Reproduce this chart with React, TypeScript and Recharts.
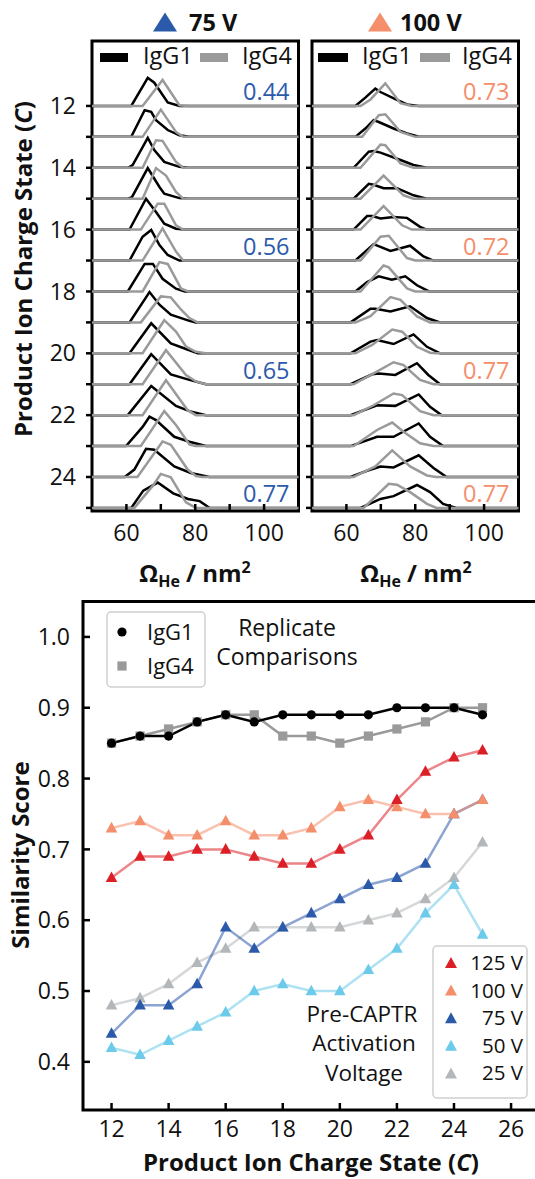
import { LineChart, Line, XAxis, YAxis, ReferenceArea, ReferenceDot } from 'recharts';

type Pt = [number, number];

// product ion charge states (C)
const chargeStates = [12, 13, 14, 15, 16, 17, 18, 19, 20, 21, 22, 23, 24, 25];
const chargeTicks = [12, 14, 16, 18, 20, 22, 24, 26];
const ccsTicks = [60, 70, 80, 90, 100];
const scoreTicks = [0.4, 0.5, 0.6, 0.7, 0.8, 0.9, 1.0];
// rows that carry a similarity score in the CCS panels
const labelledCharges = [12, 17, 21, 25];

// CCS distributions: [Ω He / nm², peak height in row units], one list per charge state
const igg1At75: Pt[][] = [
  [[61.4, 0], [66.2, 0.91], [68.1, 0.75], [72, 0.11], [75.4, 0]],
  [[61.4, 0], [65.3, 0.86], [67.2, 0.81], [68.6, 0.54], [72, 0.22], [75.4, 0.05], [78.3, 0]],
  [[60.5, 0], [61.8, 0.09], [66.2, 0.97], [68.1, 0.57], [71, 0.19], [75.4, 0.03], [78, 0]],
  [[60.5, 0], [61.6, 0.05], [66.2, 0.99], [69.6, 0.38], [71, 0.16], [75.4, 0.02], [78, 0]],
  [[60.9, 0], [65.7, 1.0], [68.6, 0.57], [71, 0.19], [74.4, 0.03], [77, 0]],
  [[60.9, 0], [64.7, 0.77], [67.2, 0.99], [69.6, 0.5], [72, 0.18], [75.4, 0]],
  [[60.4, 0], [65.3, 0.89], [67.7, 0.89], [70.5, 0.41], [74.4, 0.09], [77, 0]],
  [[60.9, 0], [66.7, 0.98], [69.6, 0.57], [72.9, 0.25], [78.3, 0.05], [80.2, 0]],
  [[60.9, 0], [67.2, 0.97], [72.9, 0.32], [77.3, 0.14], [80.7, 0]],
  [[60.9, 0], [67.2, 0.97], [72.9, 0.32], [78.3, 0.14], [83.1, 0]],
  [[60.4, 0], [67.2, 0.94], [74.4, 0.3], [78.3, 0.13], [83.1, 0]],
  [[59.9, 0], [64.7, 0.62], [66.7, 0.95], [68.6, 0.84], [73.9, 0.3], [78.3, 0.14], [83.1, 0]],
  [[59.5, 0], [62.3, 0.24], [65.7, 0.91], [68.1, 0.88], [73.9, 0.34], [78.7, 0.13], [84.1, 0]],
  [[61.4, 0], [64.9, 0.56], [69.1, 0.82], [73.6, 0.47], [77.9, 0.29], [81.3, 0.22], [84.2, 0]],
];

const igg4At75: Pt[][] = [
  [[64.7, 0], [70.5, 0.84], [75.4, 0.02], [78, 0]],
  [[64.7, 0], [70, 0.88], [74.4, 0.16], [76.5, 0]],
  [[64.7, 0], [68.6, 0.89], [70.5, 0.87], [74.4, 0.19], [76.5, 0]],
  [[64.7, 0], [68.6, 0.99], [71.5, 0.75], [74.4, 0.22], [76.5, 0]],
  [[64.2, 0], [69.1, 0.84], [71, 0.84], [74.4, 0.14], [76.5, 0]],
  [[64.7, 0], [70.5, 1.04], [74.4, 0.29], [76.5, 0]],
  [[64.7, 0], [69.6, 0.95], [72, 0.89], [75.9, 0.09], [78, 0]],
  [[64.2, 0], [70, 0.84], [72.9, 0.81], [75.9, 0.41], [78.3, 0.14], [80.7, 0]],
  [[64.7, 0], [71, 1.07], [74.4, 0.7], [77.3, 0.22], [80.2, 0.05], [83, 0]],
  [[64.7, 0], [71.5, 1.1], [77.3, 0.3], [80.2, 0.09], [83, 0]],
  [[64.7, 0], [71.5, 1.13], [77.8, 0.16], [80.2, 0]],
  [[64.2, 0], [71, 1.13], [74.4, 0.68], [78.3, 0.05], [80, 0]],
  [[63.2, 0], [70.5, 1.15], [72.9, 1.04], [77.8, 0.24], [80.2, 0.03], [82, 0]],
  [[62.3, 0], [67.7, 0.72], [70, 1.1], [72.9, 0.99], [77.3, 0.18], [80.2, 0]],
];

const igg1At100: Pt[][] = [
  [[62.6, 0], [65.5, 0.27], [68.4, 0.56], [69.9, 0.45], [74.2, 0.22], [77.6, 0.05], [81, 0]],
  [[62.6, 0], [65.5, 0.27], [67.9, 0.54], [69.4, 0.48], [73.7, 0.27], [77.6, 0.11], [81.4, 0]],
  [[62.1, 0], [66.5, 0.52], [67.9, 0.54], [69.9, 0.49], [75.7, 0.25], [79.5, 0.09], [83.3, 0]],
  [[62.1, 0], [66.5, 0.48], [67.9, 0.45], [70.8, 0.34], [74.7, 0.34], [79.5, 0.11], [83.3, 0]],
  [[62.1, 0], [66, 0.44], [67.5, 0.44], [69.9, 0.36], [73.7, 0.41], [77.6, 0.38], [81.4, 0.09], [83.3, 0]],
  [[62.6, 0], [67.9, 0.53], [72.8, 0.31], [78.5, 0.48], [82.4, 0.13], [85.3, 0]],
  [[62.6, 0], [66, 0.3], [69.4, 0.49], [73.2, 0.38], [77.1, 0.49], [80.5, 0.2], [84, 0]],
  [[61.2, 0], [67, 0.44], [68.4, 0.44], [72.8, 0.35], [78.5, 0.52], [83.4, 0.14], [87.2, 0]],
  [[61.2, 0], [67, 0.38], [68.9, 0.43], [73.7, 0.3], [79.5, 0.61], [83.4, 0.21], [87.2, 0]],
  [[61.2, 0], [67.5, 0.32], [69.4, 0.35], [74.2, 0.3], [80.5, 0.68], [83.8, 0.3], [87.2, 0]],
  [[61.2, 0], [68.9, 0.32], [74.2, 0.3], [81, 0.67], [84.3, 0.27], [87.7, 0]],
  [[61.2, 0], [68.9, 0.3], [73.7, 0.3], [81, 0.73], [84.3, 0.3], [88.1, 0]],
  [[61.2, 0], [66, 0.2], [69.9, 0.34], [73.7, 0.31], [81, 0.7], [85.3, 0.29], [89.1, 0]],
  [[64.1, 0], [69.9, 0.29], [73.7, 0.38], [80.5, 0.74], [84.3, 0.51], [88.1, 0.13], [91.9, 0]],
];

const igg4At100: Pt[][] = [
  [[64.1, 0], [67, 0.21], [71.3, 0.73], [75.7, 0.09], [79, 0]],
  [[64.6, 0], [69.4, 0.7], [71.3, 0.73], [75.7, 0.16], [80, 0]],
  [[64.1, 0], [69.9, 0.75], [71.3, 0.73], [75.7, 0.14], [79.5, 0]],
  [[64.1, 0], [70.8, 0.75], [76.6, 0.11], [79.5, 0]],
  [[64.1, 0], [70.8, 0.76], [76.2, 0.14], [79, 0]],
  [[64.1, 0], [69.9, 0.77], [72.3, 0.8], [77.6, 0.08], [80, 0]],
  [[64.1, 0], [70.8, 0.84], [72.3, 0.78], [77.6, 0.1], [80, 0]],
  [[62.6, 0], [67, 0.2], [72.8, 0.82], [75.7, 0.73], [80.5, 0.19], [84.3, 0]],
  [[62.6, 0], [67.5, 0.27], [73.3, 0.77], [76.2, 0.7], [80.5, 0.21], [84.3, 0.02], [86, 0]],
  [[62.1, 0], [67.9, 0.35], [73.7, 0.71], [76.6, 0.62], [81.4, 0.14], [85.3, 0]],
  [[62.1, 0], [67.9, 0.32], [73.7, 0.7], [76.2, 0.65], [81.4, 0.13], [85.3, 0]],
  [[62.1, 0], [68.9, 0.52], [73.3, 0.76], [76.6, 0.46], [81.4, 0.09], [85.3, 0]],
  [[62.1, 0], [68.4, 0.34], [73.3, 0.86], [78.5, 0.34], [83.4, 0.05], [86, 0]],
  [[65, 0], [72.3, 0.78], [74.7, 0.75], [78.5, 0.51], [83.4, 0.13], [86.2, 0]],
];

// similarity scores, one per charge state
const replicateIgG1 = [0.85, 0.86, 0.86, 0.88, 0.89, 0.88, 0.89, 0.89, 0.89, 0.89, 0.9, 0.9, 0.9, 0.89];
const replicateIgG4 = [0.85, 0.86, 0.87, 0.88, 0.89, 0.89, 0.86, 0.86, 0.85, 0.86, 0.87, 0.88, 0.9, 0.9];
const score125 = [0.66, 0.69, 0.69, 0.7, 0.7, 0.69, 0.68, 0.68, 0.7, 0.72, 0.77, 0.81, 0.83, 0.84];
const score100 = [0.73, 0.74, 0.72, 0.72, 0.74, 0.72, 0.72, 0.73, 0.76, 0.77, 0.76, 0.75, 0.75, 0.77];
const score75 = [0.44, 0.48, 0.48, 0.51, 0.59, 0.56, 0.59, 0.61, 0.63, 0.65, 0.66, 0.68, 0.75, 0.77];
const score50 = [0.42, 0.41, 0.43, 0.45, 0.47, 0.5, 0.51, 0.5, 0.5, 0.53, 0.56, 0.61, 0.65, 0.58];
const score25 = [0.48, 0.49, 0.51, 0.54, 0.56, 0.59, 0.59, 0.59, 0.59, 0.6, 0.61, 0.63, 0.66, 0.71];

const RED = '#dc1f27';
const SALMON = '#f48e6b';
const BLUE = '#2c5aab';
const SKY = '#6ccaea';
const SILVER = '#b3b7b9';
const GRAY = '#9a9a9a';
const INK = '#111';

const voltageSeries = [
  { key: 'v25', label: '25 V', color: SILVER },
  { key: 'v50', label: '50 V', color: SKY },
  { key: 'v75', label: '75 V', color: BLUE },
  { key: 'v100', label: '100 V', color: SALMON },
  { key: 'v125', label: '125 V', color: RED },
];

const scoreRows = chargeStates.map((c, i) => ({
  c,
  igg1: replicateIgG1[i],
  igg4: replicateIgG4[i],
  v125: score125[i],
  v100: score100[i],
  v75: score75[i],
  v50: score50[i],
  v25: score25[i],
}));

const toRidge = (pts: Pt[], c: number) =>
  [[50, 0] as Pt, ...pts, [110, 0] as Pt].map(([x, h]) => ({ x, y: c - h }));

const tickFont = { fill: INK, fontSize: 23 };
const tickStroke = { stroke: '#000', strokeWidth: 2.5 };
const TITLE_SIZE = 24;

const OmegaTitle = ({ x, y }: { x: number; y: number }) => (
  <text x={x} y={y} textAnchor="middle" fontSize={TITLE_SIZE} fontWeight={700} fill={INK}>
    <tspan>Ω</tspan>
    <tspan fontSize={16} dy={5}>He</tspan>
    <tspan dy={-5}> / nm</tspan>
    <tspan fontSize={16} dy={-9}>2</tspan>
  </text>
);

const VerticalTitle = ({ x, y, children }: { x: number; y: number; children: any }) => (
  <text
    x={x}
    y={y}
    transform={`rotate(-90 ${x} ${y})`}
    textAnchor="middle"
    fontSize={TITLE_SIZE}
    fontWeight={700}
    fill={INK}
  >
    {children}
  </text>
);

type PanelProps = {
  igg1: Pt[][];
  igg4: Pt[][];
  scores: number[];
  color: string;
  axisWidth: number;
  width: number;
  titleX: number;
  showLabels: boolean;
};

function RidgePanel({ igg1, igg4, scores, color, axisWidth, width, titleX, showLabels }: PanelProps) {
  return (
    <LineChart width={width} height={600} margin={{ top: 41, right: 11.5, bottom: 0, left: 0 }}>
      <XAxis
        type="number"
        dataKey="x"
        domain={[50, 110]}
        ticks={ccsTicks}
        interval={0}
        tickFormatter={(v) => (v % 20 === 0 ? String(v) : '')}
        tickSize={-7}
        tickMargin={21}
        axisLine={false}
        tickLine={tickStroke}
        tick={tickFont}
        height={89}
        label={() => <OmegaTitle x={titleX} y={582} />}
      />
      <YAxis
        type="number"
        domain={[9.9, 25.1]}
        reversed
        allowDataOverflow
        ticks={chargeStates}
        interval={0}
        tickFormatter={(v) => (showLabels && v % 2 === 0 ? String(v) : '')}
        width={axisWidth}
        tickSize={6}
        tickMargin={10}
        axisLine={false}
        tickLine={tickStroke}
        tick={tickFont}
        label={
          showLabels
            ? () => (
                <VerticalTitle x={32} y={269}>
                  Product Ion Charge State (<tspan fontStyle="italic">C</tspan>)
                </VerticalTitle>
              )
            : undefined
        }
      />
      {chargeStates.flatMap((c, i) => [
        <Line
          key={`igg1-${c}`}
          data={toRidge(igg1[i], c)}
          dataKey="y"
          type="linear"
          stroke="#000"
          strokeWidth={2.5}
          dot={false}
          isAnimationActive={false}
        />,
        <Line
          key={`igg4-${c}`}
          data={toRidge(igg4[i], c)}
          dataKey="y"
          type="linear"
          stroke={GRAY}
          strokeWidth={2.5}
          dot={false}
          isAnimationActive={false}
        />,
      ])}
      {labelledCharges.map((c) => (
        <ReferenceDot
          key={`score-${c}`}
          x={110}
          y={c - 0.45}
          r={0}
          fill="none"
          stroke="none"
          label={{ value: scores[c - 12].toFixed(2), position: 'left', offset: 9, fill: color, fontSize: 23.5 }}
        />
      ))}
      <ReferenceArea x1={50} x2={110} y1={9.9} y2={25.1} fill="none" stroke="#000" strokeWidth={3} />
    </LineChart>
  );
}

const triangleDot = (fill: string) => (p: any) => (
  <path
    key={`tri-${p.index}`}
    d={`M${p.cx},${p.cy - 6.3}L${p.cx + 5.8},${p.cy + 4.3}L${p.cx - 5.8},${p.cy + 4.3}Z`}
    fill={fill}
  />
);

const squareDot = (p: any) => (
  <rect key={`sq-${p.index}`} x={p.cx - 4.6} y={p.cy - 4.6} width={9.2} height={9.2} fill={GRAY} />
);

function ScoreChart() {
  return (
    <LineChart width={545} height={589} data={scoreRows} margin={{ top: 11.5, right: 5.4, bottom: 0, left: 0 }}>
      <XAxis
        type="number"
        dataKey="c"
        domain={[11, 27]}
        ticks={chargeTicks}
        interval={0}
        tickSize={-7}
        tickMargin={18}
        axisLine={false}
        tickLine={tickStroke}
        tick={tickFont}
        height={69}
        label={() => (
          <text x={311} y={581} textAnchor="middle" fontSize={TITLE_SIZE} fontWeight={700} fill={INK}>
            Product Ion Charge State (<tspan fontStyle="italic">C</tspan>)
          </text>
        )}
      />
      <YAxis
        type="number"
        domain={[0.332, 1.05]}
        ticks={scoreTicks}
        interval={0}
        tickFormatter={(v) => v.toFixed(1)}
        width={83}
        tickSize={-7}
        tickMargin={20}
        axisLine={false}
        tickLine={tickStroke}
        tick={tickFont}
        label={() => <VerticalTitle x={29} y={265}>Similarity Score</VerticalTitle>}
      />
      {voltageSeries.map((s) => (
        <Line
          key={s.key}
          dataKey={s.key}
          type="linear"
          stroke={s.color}
          strokeOpacity={0.55}
          strokeWidth={2.5}
          dot={triangleDot(s.color)}
          isAnimationActive={false}
        />
      ))}
      <Line dataKey="igg4" type="linear" stroke={GRAY} strokeWidth={2.5} dot={squareDot} isAnimationActive={false} />
      <Line
        dataKey="igg1"
        type="linear"
        stroke="#000"
        strokeWidth={2.5}
        dot={{ r: 4.6, fill: '#000', stroke: 'none' }}
        isAnimationActive={false}
      />
      <ReferenceArea x1={11} x2={27} y1={0.332} y2={1.05} fill="none" stroke="#000" strokeWidth={3} />
    </LineChart>
  );
}

const tri = (cx: number, cy: number, half: number, h: number) =>
  `M${cx - half},${cy + h / 2}L${cx + half},${cy + h / 2}L${cx},${cy - h / 2}Z`;

function Annotations() {
  const legendRows = [...voltageSeries].reverse();
  return (
    <svg
      width={535}
      height={1179}
      style={{ position: 'absolute', left: 0, top: 0, pointerEvents: 'none' }}
      fontFamily="'Open Sans', sans-serif"
    >
      {/* panel headings */}
      <path d={tri(165, 22, 12, 19)} fill={BLUE} />
      <text x={189} y={31} fontSize={23.5} fontWeight={700} fill={INK}>75 V</text>
      <path d={tri(380, 22, 12, 19)} fill={SALMON} />
      <text x={400} y={31} fontSize={23.5} fontWeight={700} fill={INK}>100 V</text>

      {/* CCS panel legends */}
      <rect x={100} y={53} width={28} height={9} fill="#000" />
      <text x={143} y={64} fontSize={23.5} fill={INK}>IgG1</text>
      <rect x={200} y={53} width={28} height={9} fill={GRAY} />
      <text x={242} y={64} fontSize={23.5} fill={INK}>IgG4</text>
      <rect x={318} y={53} width={30} height={9} fill="#000" />
      <text x={362} y={64} fontSize={23.5} fill={INK}>IgG1</text>
      <rect x={420} y={53} width={30} height={9} fill={GRAY} />
      <text x={462} y={64} fontSize={23.5} fill={INK}>IgG4</text>

      {/* replicate legend */}
      <rect x={107} y={612} width={98} height={75} rx={4} fill="#fff" fillOpacity={0.8} stroke="#cfcfcf" strokeWidth={1.5} />
      <circle cx={122} cy={632} r={4.6} fill="#000" />
      <text x={147} y={640} fontSize={22} fill={INK}>IgG1</text>
      <rect x={117.4} y={661.4} width={9.2} height={9.2} fill={GRAY} />
      <text x={147} y={674} fontSize={22} fill={INK}>IgG4</text>
      <text x={287} y={636} fontSize={23} textAnchor="middle" fill={INK}>Replicate</text>
      <text x={287} y={665} fontSize={23} textAnchor="middle" fill={INK}>Comparisons</text>

      {/* activation voltage legend */}
      <rect x={433} y={946} width={94} height={152} rx={4} fill="#fff" fillOpacity={0.8} stroke="#cfcfcf" strokeWidth={1.5} />
      {legendRows.map((s, i) => (
        <g key={s.key}>
          <path d={tri(451, 962.5 + i * 27.6, 6, 11)} fill={s.color} />
          <text x={523} y={970 + i * 27.6} fontSize={20.5} textAnchor="end" fill={INK}>{s.label}</text>
        </g>
      ))}
      <text x={362} y={1022} fontSize={22.5} textAnchor="middle" fill={INK}>Pre-CAPTR</text>
      <text x={364} y={1051} fontSize={22.5} textAnchor="middle" fill={INK}>Activation</text>
      <text x={364} y={1080.5} fontSize={22.5} textAnchor="middle" fill={INK}>Voltage</text>
    </svg>
  );
}

export default function App() {
  return (
    <div
      style={{
        position: 'absolute',
        left: 0,
        top: 0,
        width: 535,
        height: 1179,
        overflow: 'hidden',
        background: '#fff',
        fontFamily: "'Open Sans', sans-serif",
      }}
    >
      <div style={{ position: 'absolute', left: 0, top: 0 }}>
        <RidgePanel
          igg1={igg1At75}
          igg4={igg4At75}
          scores={score75}
          color={BLUE}
          axisWidth={92}
          width={310}
          titleX={195}
          showLabels
        />
      </div>
      <div style={{ position: 'absolute', left: 300, top: 0 }}>
        <RidgePanel
          igg1={igg1At100}
          igg4={igg4At100}
          scores={score100}
          color={SALMON}
          axisWidth={12}
          width={230}
          titleX={116}
          showLabels={false}
        />
      </div>
      <div style={{ position: 'absolute', left: 0, top: 590 }}>
        <ScoreChart />
      </div>
      <Annotations />
    </div>
  );
}
